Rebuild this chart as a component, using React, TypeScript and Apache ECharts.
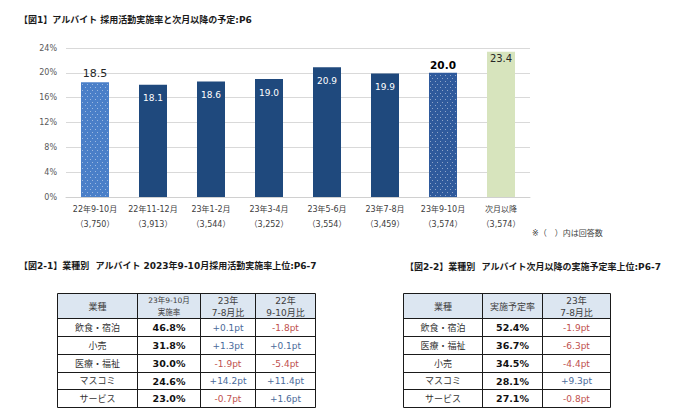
import React, { useEffect, useRef } from 'react';
import * as echarts from 'echarts';

// ---- data ----
const categories = ['22年9-10月', '22年11-12月', '23年1-2月', '23年3-4月', '23年5-6月', '23年7-8月', '23年9-10月', '次月以降'];
const respondents = ['3,750', '3,913', '3,544', '3,252', '3,554', '3,459', '3,574', '3,574'];
const rates = [18.5, 18.1, 18.6, 19.0, 20.9, 19.9, 20.0, 23.4];
const yTicks = [0, 4, 8, 12, 16, 20, 24];

const t1Headers = ['業種', '23年9-10月\n実施率', '23年\n7-8月比', '22年\n9-10月比'];
const t1Industries = ['飲食・宿泊', '小売', '医療・福祉', 'マスコミ', 'サービス'];
const t1Rates = [46.8, 31.8, 30.0, 24.6, 23.0];
const t1DiffPrev = [0.1, 1.3, -1.9, 14.2, -0.7];
const t1DiffYoY = [-1.8, 0.1, -5.4, 11.4, 1.6];

const t2Headers = ['業種', '実施予定率', '23年\n7-8月比'];
const t2Industries = ['飲食・宿泊', '医療・福祉', '小売', 'マスコミ', 'サービス'];
const t2Rates = [52.4, 36.7, 34.5, 28.1, 27.1];
const t2DiffPrev = [-1.9, -6.3, -4.4, 9.3, -0.8];

// ---- styles ----
const FONT = "'DejaVu Sans', 'Noto Sans CJK JP', sans-serif";
const NAVY = '#1f497d';
const BLUE_TXT = '#4a6a9a';
const RED_TXT = '#c0504d';

const fmtPt = (v: number) => (v > 0 ? '+' : '') + v.toFixed(1) + 'pt';

function txt(x: number, y: number, text: string, opts: any = {}) {
  return {
    type: 'text',
    x,
    y,
    silent: true,
    style: {
      text,
      fill: opts.fill || '#333',
      fontSize: opts.fontSize || 9,
      fontWeight: opts.fontWeight || 'normal',
      fontFamily: FONT,
      align: opts.align || 'center',
      verticalAlign: 'middle',
      textAlign: opts.align || 'center',
      textVerticalAlign: 'middle',
      lineHeight: opts.lineHeight || 12,
    },
  };
}

function line(x1: number, y1: number, x2: number, y2: number) {
  return { type: 'line', silent: true, shape: { x1, y1, x2, y2 }, style: { stroke: '#1a1a1a', lineWidth: 1 } };
}

function makeTable(colX: number[], rowY: number[], headers: string[], columns: { text: string; fill: string; bold?: boolean }[][], headerSizes: number[]) {
  const els: any[] = [];
  els.push({ type: 'rect', silent: true, shape: { x: colX[0], y: rowY[0], width: colX[colX.length - 1] - colX[0], height: rowY[1] - rowY[0] }, style: { fill: '#dce6f1' } });
  headers.forEach((h, c) => {
    els.push(txt((colX[c] + colX[c + 1]) / 2, (rowY[0] + rowY[1]) / 2 + 0.5, h, { fill: '#404040', fontSize: headerSizes[c], lineHeight: 12 }));
  });
  columns.forEach((col, c) => {
    col.forEach((cell, r) => {
      els.push(txt((colX[c] + colX[c + 1]) / 2, (rowY[r + 1] + rowY[r + 2]) / 2, cell.text, { fill: cell.fill, fontSize: cell.bold ? 9.5 : 9, fontWeight: cell.bold ? 'bold' : 'normal' }));
    });
  });
  rowY.forEach((y) => els.push(line(colX[0], y, colX[colX.length - 1], y)));
  colX.forEach((x) => els.push(line(x, rowY[0], x, rowY[rowY.length - 1])));
  return els;
}

const ROWS = [293.5, 318.5, 336.5, 354.5, 372.5, 389.5, 407.5];

function diffCells(arr: number[]) {
  return arr.map((v) => ({ text: fmtPt(v), fill: v < 0 ? RED_TXT : BLUE_TXT }));
}

export default function App() {
  const ref = useRef<HTMLDivElement>(null);
  useEffect(() => {
    if (!ref.current) return;
    const chart = echarts.init(ref.current, undefined, { renderer: 'svg' });

    const dotted = [0, 6];
    const forecast = 7;
    const dotDecal = {
      symbol: 'rect',
      symbolSize: 1,
      color: 'rgba(255,255,255,0.45)',
      dashArrayX: [[1, 4], [0, 2, 1, 2]],
      dashArrayY: [1, 2],
      rotation: 0,
    };

    const barData = rates.map((v, i) => {
      let itemStyle: any = { color: NAVY };
      let label: any = { show: true, position: 'insideTop', distance: 9, color: '#ffffff', fontSize: 9, fontFamily: FONT };
      if (i === 0) {
        itemStyle = { color: '#4a7fc8', decal: dotDecal };
        label = { show: true, position: 'top', distance: 3, color: '#262626', fontSize: 11, fontFamily: FONT };
      } else if (i === 6) {
        itemStyle = { color: '#2f5a9c', decal: dotDecal };
        label = { show: true, position: 'top', distance: 3, color: '#000000', fontSize: 10.5, fontWeight: 'bold', fontFamily: FONT };
      } else if (i === forecast) {
        itemStyle = { color: '#d7e4bd' };
        label = { show: true, position: 'insideTop', distance: 2, color: '#262626', fontSize: 10, fontFamily: FONT };
      }
      return { value: v, itemStyle, label };
    });
    void dotted;

    const table1 = makeTable(
      [57.5, 137.5, 200.5, 255.5, 315.5],
      ROWS,
      t1Headers,
      [
        t1Industries.map((s) => ({ text: s, fill: '#333333' })),
        t1Rates.map((v) => ({ text: v.toFixed(1) + '%', fill: '#111111', bold: true })),
        diffCells(t1DiffPrev),
        diffCells(t1DiffYoY),
      ],
      [9, 7.5, 9, 9]
    );
    const table2 = makeTable(
      [403.5, 482.5, 542.5, 610.5],
      ROWS,
      t2Headers,
      [
        t2Industries.map((s) => ({ text: s, fill: '#333333' })),
        t2Rates.map((v) => ({ text: v.toFixed(1) + '%', fill: '#111111', bold: true })),
        diffCells(t2DiffPrev),
      ],
      [9, 9, 9]
    );

    chart.setOption({
      animation: false,
      backgroundColor: '#ffffff',
      grid: { left: 66, right: 163, top: 48, bottom: 223, containLabel: false },
      xAxis: {
        type: 'category',
        data: categories,
        axisLine: { lineStyle: { color: '#d0d0d0' } },
        axisTick: { show: false },
        axisLabel: {
          margin: 5,
          interval: 0,
          formatter: (val: string, idx: number) => `{a|${val}}\n{b|（${respondents[idx]}）}`,
          rich: {
            a: { fontSize: 8, color: '#404040', fontFamily: FONT, lineHeight: 15 },
            b: { fontSize: 8, color: '#404040', fontFamily: FONT, lineHeight: 15 },
          },
        },
      },
      yAxis: {
        type: 'value',
        min: yTicks[0],
        max: yTicks[yTicks.length - 1],
        interval: 4,
        axisLine: { show: false },
        axisTick: { show: false },
        splitLine: { lineStyle: { color: '#d9d9d9' } },
        axisLabel: { formatter: '{value}%', fontSize: 8, color: '#595959', fontFamily: FONT, margin: 9 },
      },
      series: [
        {
          type: 'bar',
          barWidth: 28,
          data: barData,
          label: { formatter: (p: any) => Number(p.value).toFixed(1) },
        },
      ],
      graphic: [
        txt(19, 20, '【図1】アルバイト 採用活動実施率と次月以降の予定:P6', { align: 'left', fontSize: 9, fontWeight: 'bold', fill: '#1a1a1a' }),
        txt(532, 233, '※（　）内は回答数', { align: 'left', fontSize: 8, fill: '#404040' }),
        txt(19, 266, '【図2-1】業種別  アルバイト 2023年9-10月採用活動実施率上位:P6-7', { align: 'left', fontSize: 9, fontWeight: 'bold', fill: '#1a1a1a' }),
        txt(405, 267, '【図2-2】業種別  アルバイト次月以降の実施予定率上位:P6-7', { align: 'left', fontSize: 9, fontWeight: 'bold', fill: '#1a1a1a' }),
        ...table1,
        ...table2,
      ],
    });
    return () => chart.dispose();
  }, []);
  return <div ref={ref} style={{ position: 'absolute', left: 0, top: 0, width: 693, height: 420, background: '#fff' }} />;
}
